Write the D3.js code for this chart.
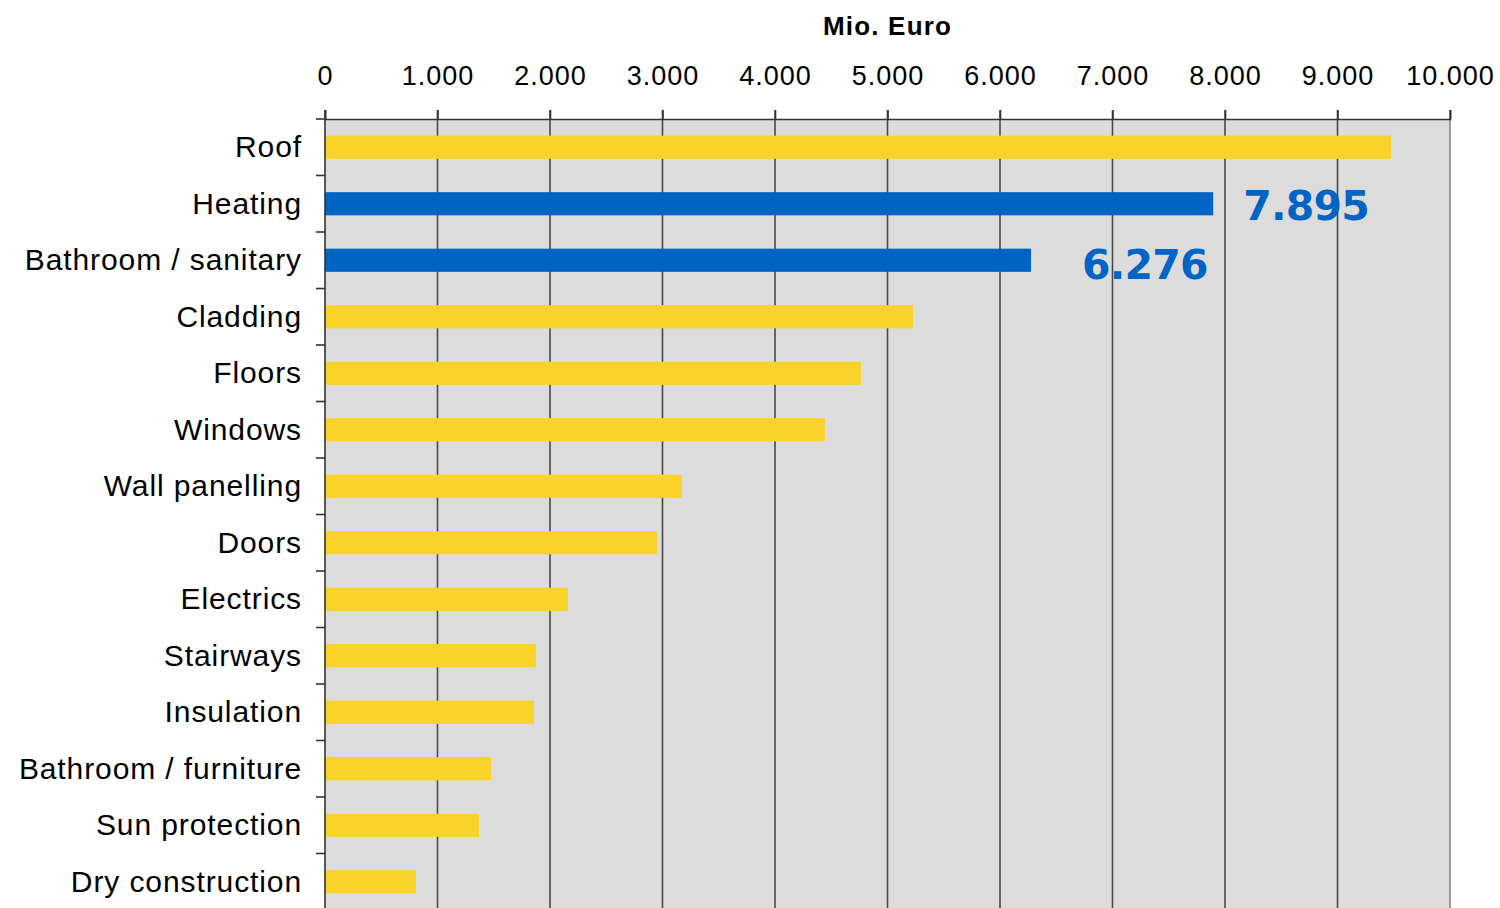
<!DOCTYPE html>
<html>
<head>
<meta charset="utf-8">
<script src="https://cdn.jsdelivr.net/npm/d3@7"></script>
<style>
  body { margin: 0; background: #fff; }
  svg { display: block; }
</style>
</head>
<body>
<div id="chart"></div>
<script>
// data
const categories = [
  "Roof", "Heating", "Bathroom / sanitary", "Cladding", "Floors", "Windows",
  "Wall panelling", "Doors", "Electrics", "Stairways", "Insulation",
  "Bathroom / furniture", "Sun protection", "Dry construction"
];
const values = [9475, 7895, 6276, 5227, 4764, 4444, 3173, 2951, 2160, 1876, 1858, 1476, 1369, 809];
const highlighted = ["Heating", "Bathroom / sanitary"];
const xTicks = [0, 1000, 2000, 3000, 4000, 5000, 6000, 7000, 8000, 9000, 10000];
const axisTitle = "Mio. Euro";

const width = 1500;
const height = 908;
const margin = { top: 119, right: 50, bottom: -2, left: 325 };

const yellow = "#f9d22a";
const blue = "#0064c5";

// label offsets for the blue callouts
const callout = {
  "Heating": { dx: 30, dy: 16 },
  "Bathroom / sanitary": { dx: 51, dy: 19 }
};

const data = categories.map((c, i) => ({ name: c, value: values[i] }));

const svg = d3.select("#chart")
  .append("svg")
  .attr("width", width)
  .attr("height", height);

const x = d3.scaleLinear()
  .domain([0, 10000])
  .range([margin.left, width - margin.right]);

const y = d3.scaleBand()
  .domain(categories)
  .range([margin.top, height - margin.bottom])
  .paddingInner(0.59)
  .paddingOuter(0.295);

const fmt = d => d3.format(",")(d).replace(/,/g, ".");

// plot background
svg.append("rect")
  .attr("x", x(0))
  .attr("y", margin.top)
  .attr("width", x(10000) - x(0))
  .attr("height", height - margin.top)
  .attr("fill", "#dcdcdc");

// vertical grid + ticks above axis
svg.append("g")
  .selectAll("line")
  .data(xTicks.slice(1))
  .enter()
  .append("line")
  .attr("x1", d => x(d))
  .attr("x2", d => x(d))
  .attr("y1", margin.top - 9)
  .attr("y2", height)
  .attr("stroke", d => d === 10000 ? "#888" : "#4a4a4a")
  .attr("stroke-width", 1.6);

// top axis
const xAxis = d3.axisTop(x)
  .tickValues(xTicks)
  .tickSize(9)
  .tickFormat(fmt);

const gx = svg.append("g")
  .attr("transform", `translate(0, ${margin.top})`)
  .call(xAxis);

gx.select(".domain").attr("stroke", "#333").attr("stroke-width", 1.6);
gx.selectAll(".tick line").attr("stroke", "#333").attr("stroke-width", 1.6);
gx.selectAll(".tick text")
  .attr("y", -34)
  .attr("dy", 0)
  .style("font-family", "'Liberation Sans', Arial, sans-serif")
  .style("font-size", "27px")
  .style("letter-spacing", "1px")
  .attr("fill", "#000");

svg.append("text")
  .attr("x", (x(0) + x(10000)) / 2)
  .attr("y", 35)
  .attr("text-anchor", "middle")
  .style("font-family", "'Liberation Sans', Arial, sans-serif")
  .style("font-weight", "bold")
  .style("font-size", "26px")
  .style("letter-spacing", "1.2px")
  .text(axisTitle);

// bars
svg.append("g")
  .selectAll("rect")
  .data(data)
  .enter()
  .append("rect")
  .attr("x", x(0))
  .attr("y", d => y(d.name))
  .attr("width", d => x(d.value) - x(0))
  .attr("height", y.bandwidth())
  .attr("fill", d => highlighted.includes(d.name) ? blue : yellow);

// left axis line and category boundary ticks
const step = y.step();
const boundaries = d3.range(categories.length).map(i => margin.top + i * step);

svg.append("line")
  .attr("x1", x(0))
  .attr("x2", x(0))
  .attr("y1", margin.top - 9)
  .attr("y2", height)
  .attr("stroke", "#333")
  .attr("stroke-width", 1.6);

svg.append("g")
  .selectAll("line")
  .data(boundaries)
  .enter()
  .append("line")
  .attr("x1", x(0) - 9)
  .attr("x2", x(0))
  .attr("y1", d => d)
  .attr("y2", d => d)
  .attr("stroke", "#333")
  .attr("stroke-width", 1.6);

// category labels
svg.append("g")
  .selectAll("text")
  .data(data)
  .enter()
  .append("text")
  .attr("x", 302)
  .attr("y", d => y(d.name) + y.bandwidth() / 2 + 10)
  .attr("text-anchor", "end")
  .style("font-family", "'Liberation Sans', Arial, sans-serif")
  .style("font-size", "30px")
  .style("letter-spacing", "0.9px")
  .attr("fill", "#000")
  .text(d => d.name);

// highlighted value labels
svg.append("g")
  .selectAll("text")
  .data(data.filter(d => highlighted.includes(d.name)))
  .enter()
  .append("text")
  .attr("x", d => x(d.value) + callout[d.name].dx)
  .attr("y", d => y(d.name) + y.bandwidth() / 2 + callout[d.name].dy)
  .style("font-family", "'DejaVu Sans', sans-serif")
  .style("font-weight", "bold")
  .style("font-size", "41px")
  .style("letter-spacing", "-0.8px")
  .attr("fill", blue)
  .text(d => fmt(d.value));
</script>
</body>
</html>
